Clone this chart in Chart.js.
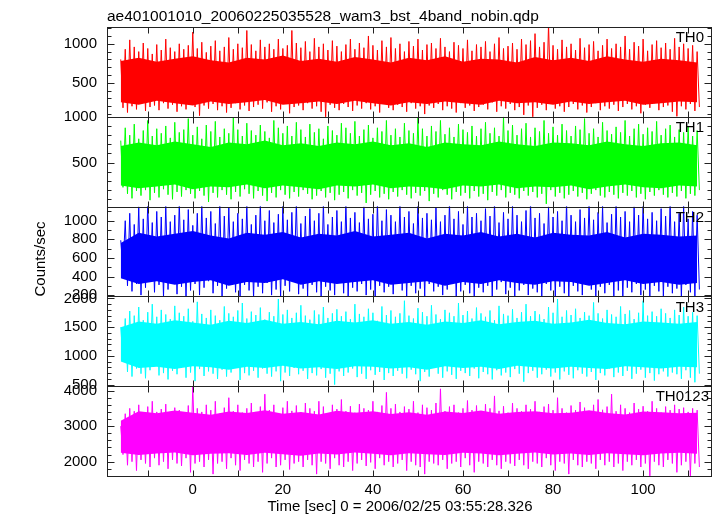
<!DOCTYPE html>
<html>
<head>
<meta charset="utf-8">
<script src="https://cdn.jsdelivr.net/npm/chart.js@4.4.1/dist/chart.umd.min.js"></script>
<style>
  html, body { margin: 0; padding: 0; background: #fff; }
  canvas { display: block; }
</style>
</head>
<body>
<canvas id="lc" width="717" height="516"></canvas>
<script>
// light curve: one bin per second, starting at t = -16 s
// hi / lo = upper and lower excursion read off each second of the plot
const tStart = -16;

const th0Hi = [800, 930, 1050, 960, 900, 1010, 940, 870, 990, 920,
  1060, 950, 900, 1000, 930, 980, 1150, 940, 1020, 890,
  970, 1040, 910, 960, 1080, 930, 1000, 950, 1170, 990,
  910, 1050, 960, 1000, 930, 1060, 940, 980, 1170, 1010,
  950, 1030, 900, 1070, 960, 1000, 920, 1040, 970, 900,
  990, 1060, 930, 1010, 950, 1100, 980, 920, 1040, 960,
  1080, 940, 1000, 900, 1030, 970, 1060, 920, 990, 1010,
  940, 1070, 960, 900, 1020, 980, 940, 1050, 910, 990,
  960, 1030, 900, 1000, 1080, 940, 970, 1010, 930, 1060,
  990, 1040, 1130, 960, 1020, 1250, 980, 930, 1050, 960,
  1000, 920, 1070, 950, 990, 1030, 910, 980, 1060, 940,
  1000, 960, 1100, 930, 1020, 970, 1060, 910, 990, 1040,
  950, 1010, 930, 1070, 960, 1000, 940, 980, 900];
const th0Lo = [180, 120, 200, 160, 230, 140, 190, 210, 150, 240,
  170, 220, 130, 200, 160, 250, 190, 80, 210, 170,
  230, 150, 200, 120, 180, 240, 160, 210, 140, 190,
  220, 170, 250, 130, 200, 160, 230, 110, 190, 210,
  150, 240, 170, 200, 130, 60, 220, 180, 150, 230,
  190, 140, 210, 170, 240, 160, 200, 120, 230, 180,
  150, 220, 190, 130, 240, 170, 200, 100, 210, 180,
  230, 150, 200, 170, 120, 240, 180, 210, 140, 190,
  220, 160, 250, 130, 200, 170, 230, 150, 190, 90,
  210, 60, 180, 220, 150, 240, 170, 200, 130, 190,
  230, 160, 210, 120, 190, 240, 150, 200, 170, 220,
  140, 190, 230, 160, 200, 110, 220, 180, 240, 150,
  190, 210, 130, 70, 200, 160, 230, 140, 190];

const th1Hi = [740, 880, 800, 920, 760, 850, 960, 790, 870, 820,
  900, 770, 940, 830, 860, 980, 800, 890, 760, 910,
  840, 950, 780, 870, 820, 990, 860, 790, 930, 850,
  800, 910, 840, 770, 960, 880, 820, 900, 790, 940,
  860, 780, 920, 830, 870, 760, 900, 850, 800, 930,
  880, 820, 950, 790, 860, 910, 770, 880, 840, 960,
  800, 870, 780, 930, 850, 820, 990, 870, 790, 900,
  840, 960, 810, 880, 780, 920, 860, 830, 900, 790,
  870, 940, 820, 880, 790, 1000, 850, 910, 800, 870,
  930, 780, 880, 840, 960, 820, 890, 800, 920, 850,
  790, 900, 860, 980, 820, 870, 780, 940, 850, 810,
  890, 830, 960, 790, 870, 920, 810, 880, 840, 950,
  800, 870, 910, 780, 860, 830, 900, 790, 850];
const th1Lo = [230, 160, 110, 190, 140, 200, 90, 170, 120, 210,
  150, 100, 180, 130, 200, 160, 110, 190, 140, 70,
  170, 120, 200, 150, 100, 180, 130, 210, 160, 110,
  190, 140, 80, 170, 120, 200, 150, 110, 180, 130,
  200, 160, 100, 140, 190, 120, 170, 90, 150, 180,
  110, 200, 140, 170, 60, 150, 190, 120, 160, 100,
  180, 130, 200, 150, 110, 170, 140, 190, 80, 160,
  120, 200, 150, 100, 180, 140, 170, 110, 190, 130,
  160, 90, 180, 140, 200, 120, 170, 150, 110, 190,
  140, 180, 120, 160, 50, 200, 130, 170, 110, 150,
  190, 130, 170, 100, 160, 200, 140, 120, 180, 150,
  110, 170, 140, 190, 120, 160, 100, 180, 140, 200,
  150, 120, 170, 130, 190, 110, 160, 140, 200];

const th2Hi = [790, 1000, 1080, 960, 1150, 1020, 1200, 980, 1100, 1040,
  1170, 990, 1060, 1200, 1010, 1120, 950, 1080, 1180, 1030,
  1100, 970, 1200, 1050, 1140, 990, 1080, 1020, 1170, 960,
  1060, 1200, 1000, 1110, 980, 1070, 1160, 1010, 1090, 1200,
  970, 1050, 1130, 1000, 1080, 1190, 960, 1040, 1110, 990,
  1200, 1030, 1090, 980, 1150, 1020, 1070, 1200, 1000, 1120,
  1060, 990, 1180, 1040, 1100, 970, 1200, 1030, 1080, 1010,
  1140, 990, 1060, 1200, 1020, 1100, 960, 1170, 1040, 1080,
  1000, 1130, 1050, 1200, 980, 1090, 1020, 1160, 1060, 990,
  1110, 1200, 1030, 1080, 970, 1150, 1040, 1100, 1000, 1200,
  1060, 990, 1120, 1030, 1200, 1010, 1090, 1160, 980, 1070,
  1200, 1040, 1100, 990, 1150, 1060, 1200, 1020, 1090, 1000,
  1130, 1050, 1200, 990, 1080, 1160, 1020, 1100, 1060];
const th2Lo = [480, 300, 240, 320, 200, 280, 350, 230, 310, 180,
  260, 330, 210, 290, 170, 250, 320, 200, 280, 350,
  220, 300, 180, 270, 340, 230, 190, 310, 250, 170,
  290, 220, 330, 200, 260, 180, 300, 240, 350, 210,
  270, 190, 310, 230, 170, 290, 250, 200, 330, 220,
  180, 280, 240, 320, 200, 260, 170, 300, 230, 290,
  210, 340, 250, 180, 300, 220, 270, 190, 320, 240,
  290, 200, 260, 330, 180, 240, 310, 220, 170, 280,
  230, 300, 190, 260, 340, 210, 280, 180, 250, 310,
  200, 270, 230, 180, 320, 250, 190, 290, 220, 170,
  300, 240, 200, 330, 260, 180, 290, 220, 310, 190,
  250, 170, 280, 230, 320, 200, 260, 190, 300, 240,
  180, 290, 220, 270, 170, 310, 230, 190, 260];

const th3Hi = [1500, 1650, 1780, 1700, 1850, 1620, 1760, 1900, 1680, 1800,
  1720, 1640, 1870, 1750, 1690, 1820, 1600, 1940, 1730, 1660,
  1800, 1700, 1620, 1860, 1740, 1680, 1790, 1920, 1650, 1770,
  1710, 1840, 1630, 1760, 1690, 1990, 1720, 1800, 1660, 1750,
  1880, 1700, 1630, 1790, 1720, 1850, 1660, 1740, 1810, 1690,
  1770, 1640, 1900, 1730, 1680, 1820, 1750, 1610, 1860, 1710,
  1790, 1680, 1740, 1960, 1700, 1650, 1830, 1760, 1690, 1880,
  1720, 1640, 1800, 1750, 1690, 1920, 1710, 1780, 1650, 1840,
  1740, 1680, 1790, 1620, 1870, 1730, 1700, 1810, 1660, 1760,
  1900, 1690, 1780, 1720, 1640, 1850, 1750, 1990, 1680, 1790,
  1710, 1820, 1660, 1760, 1700, 1930, 1740, 1650, 1800, 1720,
  1680, 1860, 1730, 1790, 1640, 1750, 1960, 1700, 1770, 1690,
  1820, 1740, 1660, 1800, 1710, 1850, 1690, 1760, 1700];
const th3Lo = [950, 720, 640, 780, 690, 610, 750, 820, 660, 700,
  590, 740, 680, 800, 620, 710, 560, 770, 650, 730,
  690, 600, 760, 640, 710, 820, 580, 700, 660, 740,
  620, 780, 690, 640, 730, 560, 710, 650, 790, 680,
  740, 600, 700, 660, 770, 620, 690, 500, 730, 650,
  710, 780, 630, 690, 600, 750, 670, 720, 580, 700,
  650, 740, 690, 610, 760, 680, 560, 720, 640, 790,
  690, 620, 730, 670, 600, 740, 700, 650, 780, 610,
  720, 680, 590, 750, 660, 710, 630, 770, 690, 550,
  700, 740, 620, 680, 760, 640, 710, 590, 730, 670,
  610, 750, 690, 640, 720, 580, 700, 660, 780, 630,
  710, 650, 740, 600, 690, 760, 620, 700, 570, 680,
  730, 640, 710, 680, 600, 750, 620, 540, 690];

const th0123Hi = [3000, 3350, 3500, 3420, 3600, 3300, 3550, 3700, 3400, 3480,
  3620, 3380, 3520, 3450, 3300, 3580, 4150, 3500, 3400, 3600,
  3450, 3700, 3350, 3520, 3800, 3420, 3600, 3380, 3500, 3650,
  3400, 3550, 3900, 3450, 3600, 3350, 3520, 3700, 3430, 3580,
  3380, 3650, 3500, 3420, 3700, 3550, 3300, 3600, 3480, 3750,
  3420, 3560, 3380, 3620, 3500, 3450, 3700, 3400, 3580, 3950,
  3500, 3620, 3400, 3550, 3480, 3700, 3380, 3600, 3520, 3450,
  3650, 4050, 3420, 3550, 3600, 3380, 3500, 3720, 3450, 3580,
  3400, 3620, 3500, 3850, 3430, 3560, 3380, 3650, 3500, 3420,
  3600, 3480, 3700, 3400, 3550, 3620, 3450, 3800, 3500, 3380,
  3580, 3450, 3680, 3520, 3400, 3600, 3750, 3460, 3550, 3900,
  3420, 3600, 3500, 3380, 3650, 3480, 3560, 3420, 3700, 3500,
  3380, 3550, 3450, 3600, 3480, 3520, 3400, 3500, 3450];
const th0123Lo = [2200, 1900, 2000, 1750, 2050, 1950, 1850, 2100, 1900, 2000,
  1800, 2050, 1950, 1880, 2100, 1700, 1950, 2000, 1850, 2050,
  1650, 1950, 2000, 1800, 2100, 1900, 1750, 2050, 1950, 1850,
  2000, 1700, 1950, 2100, 1850, 1900, 2050, 1780, 1950, 2000,
  1850, 2050, 1900, 1650, 2000, 1950, 1800, 2100, 1900, 1850,
  2000, 1750, 1950, 2050, 1880, 1980, 1800, 2100, 1900, 2000,
  1850, 1950, 2050, 1750, 2000, 1900, 1850, 1650, 2000, 1950,
  1900, 2050, 1800, 1950, 2000, 1850, 2100, 1900, 1700, 2000,
  1950, 1850, 2050, 1900, 1800, 2000, 1950, 1880, 2050, 1900,
  1800, 2000, 1950, 1850, 2100, 1900, 1750, 2000, 1950, 1650,
  2050, 1900, 1850, 2000, 1950, 1800, 2050, 1900, 2000, 1850,
  1950, 1750, 2000, 1900, 2050, 1850, 1950, 1600, 2000, 1900,
  1850, 2050, 1950, 1700, 1900, 2000, 1600, 1950, 1850];

// dense (solid) core of each band, read every 4 s from t = -16 to 112
const coreStep = 4;
const th0CoreHi = [780, 820, 770, 810, 840, 790, 760, 820, 800, 850, 780, 810, 770, 830, 800, 760, 820,
  790, 840, 770, 810, 800, 760, 830, 790, 820, 780, 840, 800, 770, 810, 790, 760];
const th0CoreLo = [250, 220, 270, 240, 210, 260, 230, 250, 280, 220, 240, 260, 230, 270, 240, 210, 250,
  230, 260, 240, 220, 270, 240, 250, 220, 260, 230, 250, 270, 220, 240, 260, 250];
const th1CoreHi = [680, 720, 690, 730, 700, 670, 720, 700, 740, 690, 710, 680, 720, 700, 730, 690, 710,
  670, 720, 700, 690, 730, 700, 680, 720, 710, 690, 730, 700, 680, 710, 720, 690];
const th1CoreLo = [250, 220, 240, 260, 210, 240, 230, 260, 220, 250, 230, 210, 250, 240, 260, 220, 240,
  230, 210, 250, 240, 260, 220, 240, 230, 250, 210, 240, 260, 230, 220, 250, 240];
const th2CoreHi = [760, 870, 830, 860, 890, 840, 810, 870, 850, 880, 820, 860, 840, 890, 830, 850, 870,
  810, 860, 840, 880, 830, 860, 820, 870, 850, 840, 880, 820, 860, 850, 830, 840];
const th2CoreLo = [380, 320, 350, 310, 340, 360, 300, 340, 330, 370, 310, 350, 320, 340, 360, 310, 330,
  350, 300, 340, 320, 360, 330, 310, 350, 340, 300, 330, 360, 320, 340, 310, 330];
const th3CoreHi = [1500, 1600, 1560, 1620, 1580, 1540, 1610, 1570, 1630, 1560, 1590, 1550, 1610, 1580, 1620, 1560, 1590,
  1540, 1600, 1570, 1620, 1550, 1590, 1610, 1560, 1580, 1630, 1570, 1550, 1600, 1580, 1560, 1590];
const th3CoreLo = [900, 790, 810, 770, 820, 800, 760, 810, 790, 830, 780, 800, 770, 820, 810, 780, 800,
  760, 820, 790, 810, 770, 830, 800, 780, 810, 790, 770, 820, 800, 780, 810, 800];
const th0123CoreHi = [3150, 3420, 3360, 3440, 3380, 3320, 3410, 3370, 3450, 3350, 3400, 3330, 3430, 3380, 3420, 3340, 3390,
  3320, 3410, 3370, 3440, 3350, 3400, 3420, 3360, 3380, 3450, 3370, 3330, 3410, 3390, 3360, 3380];
const th0123CoreLo = [2250, 2190, 2230, 2260, 2180, 2220, 2240, 2190, 2250, 2210, 2170, 2230, 2200, 2260, 2220, 2180, 2240,
  2210, 2190, 2250, 2230, 2180, 2220, 2260, 2200, 2230, 2190, 2240, 2210, 2180, 2230, 2250, 2220];

const panelNames = ['TH0', 'TH1', 'TH2', 'TH3', 'TH0123'];
const panelColors = ['#ff0000', '#00ff00', '#0000ff', '#00ffff', '#ff00ff'];
const panelHi = [th0Hi, th1Hi, th2Hi, th3Hi, th0123Hi];
const panelLo = [th0Lo, th1Lo, th2Lo, th3Lo, th0123Lo];
const panelCoreHi = [th0CoreHi, th1CoreHi, th2CoreHi, th3CoreHi, th0123CoreHi];
const panelCoreLo = [th0CoreLo, th1CoreLo, th2CoreLo, th3CoreLo, th0123CoreLo];

const yMins = [65, 20, 186, 472, 1597];
const yMaxs = [1215, 1000, 1152, 2035, 4124];
const yTickLabels = [
  [500, 1000],
  [500, 1000],
  [200, 400, 600, 800, 1000],
  [500, 1000, 1500, 2000],
  [2000, 3000, 4000]
];
const yMajorSteps = [500, 500, 200, 500, 1000];
const yMinorSteps = [100, 100, 100, 100, 200];
const xTickLabels = [0, 20, 40, 60, 80, 100];
const xMinorStep = 10;

const FONT = "'Liberation Sans', Arial, Helvetica, sans-serif";

function zigzag(hi, lo) {
  const pts = [];
  hi.forEach((h, i) => {
    const t = tStart + i;
    pts.push({ x: t, y: h }, { x: t + 0.5, y: lo[i] });
  });
  return pts;
}
const corePts = (vals) => vals.map((v, i) => ({ x: tStart + i * coreStep, y: v }));

const datasets = [];
panelNames.forEach((name, k) => {
  const top = datasets.length;
  datasets.push({
    label: name + ' core top',
    data: corePts(panelCoreHi[k]),
    yAxisID: 'y' + k,
    borderWidth: 0,
    pointRadius: 0,
    fill: false
  });
  datasets.push({
    label: name + ' core',
    data: corePts(panelCoreLo[k]),
    yAxisID: 'y' + k,
    borderWidth: 0,
    pointRadius: 0,
    backgroundColor: panelColors[k],
    fill: top
  });
  datasets.push({
    label: name,
    data: zigzag(panelHi[k], panelLo[k]),
    yAxisID: 'y' + k,
    borderColor: panelColors[k],
    borderWidth: 1,
    pointRadius: 0,
    tension: 0,
    fill: false
  });
});

const scales = {
  x: {
    type: 'linear',
    min: -19.05,
    max: 115.3,
    grid: { display: false, drawTicks: false },
    border: { display: false },
    afterFit: (s) => { s.height = 40; },
    afterBuildTicks: (s) => { s.ticks = xTickLabels.map(v => ({ value: v })); },
    ticks: {
      autoSkip: false,
      maxRotation: 0,
      padding: 5,
      color: '#000',
      font: { size: 15, family: FONT },
      callback: (v) => String(v)
    }
  }
};
panelNames.forEach((name, k) => {
  scales['y' + k] = {
    type: 'linear',
    position: 'left',
    stack: 'lc',
    stackWeight: 1,
    weight: 10 - k,
    offset: false,
    min: yMins[k],
    max: yMaxs[k],
    grid: { display: false, drawTicks: false },
    border: { display: false },
    afterFit: (s) => { s.width = 107; },
    afterBuildTicks: (s) => { s.ticks = yTickLabels[k].map(v => ({ value: v })); },
    ticks: {
      autoSkip: false,
      padding: 10,
      color: '#000',
      font: { size: 15, family: FONT },
      callback: (v) => String(v)
    }
  };
});

// frames, inward tick marks, panel names and axis titles
const qdpFrame = {
  id: 'qdpFrame',
  afterDraw(chart) {
    const { ctx, chartArea: a } = chart;
    const xs = chart.scales.x;
    const seg = (x1, y1, x2, y2) => {
      ctx.beginPath(); ctx.moveTo(x1, y1); ctx.lineTo(x2, y2); ctx.stroke();
    };
    ctx.save();
    ctx.strokeStyle = '#222';
    ctx.lineWidth = 1;
    panelNames.forEach((name, k) => {
      const s = chart.scales['y' + k];
      const top = Math.round(s.top) + 0.5, bot = Math.round(s.bottom) + 0.5;
      const left = Math.round(a.left) + 0.5, right = Math.round(a.right) - 0.5;
      ctx.strokeRect(left, top, right - left, bot - top);
      const step = yMinorSteps[k];
      for (let v = Math.ceil(s.min / step) * step; v <= s.max; v += step) {
        const py = Math.round(s.getPixelForValue(v)) + 0.5;
        const len = v % yMajorSteps[k] === 0 ? 7 : 4;
        seg(left, py, left + len, py);
        seg(right - len, py, right, py);
      }
      for (let v = -10; v <= 110; v += xMinorStep) {
        const px = Math.round(xs.getPixelForValue(v)) + 0.5;
        seg(px, top, px, top + 6);
        seg(px, bot - 6, px, bot);
      }
      ctx.fillStyle = '#000';
      ctx.font = '15px ' + FONT;
      ctx.textAlign = 'right';
      ctx.textBaseline = 'middle';
      ctx.fillText(name, a.right - (k === 4 ? 3 : 8), s.top + 11);
    });
    ctx.fillStyle = '#000';
    ctx.textBaseline = 'alphabetic';
    ctx.textAlign = 'left';
    ctx.font = '15.5px ' + FONT;
    ctx.fillText('ae401001010_20060225035528_wam3_bst_4band_nobin.qdp', a.left, 21);
    ctx.font = '15px ' + FONT;
    ctx.textAlign = 'center';
    ctx.textBaseline = 'middle';
    ctx.fillText('Time [sec] 0 = 2006/02/25 03:55:28.326', 400, 507);
    ctx.save();
    ctx.translate(41, 259);
    ctx.rotate(-Math.PI / 2);
    ctx.fillText('Counts/sec', 0, 0);
    ctx.restore();
    ctx.restore();
  }
};

new Chart(document.getElementById('lc'), {
  type: 'line',
  data: { datasets },
  options: {
    responsive: false,
    animation: false,
    layout: { padding: { left: 0, top: 27, right: 5, bottom: 0 } },
    plugins: { legend: { display: false }, tooltip: { enabled: false }, title: { display: false } },
    scales
  },
  plugins: [qdpFrame]
});
</script>
</body>
</html>
